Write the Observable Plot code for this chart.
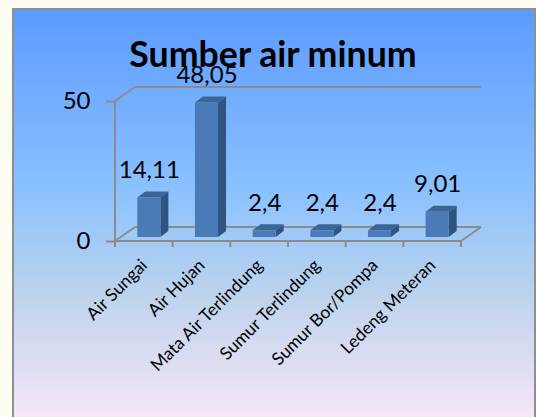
<!DOCTYPE html>
<html>
<head>
<meta charset="utf-8">
<script src="https://cdn.jsdelivr.net/npm/d3@7"></script>
<script src="https://cdn.jsdelivr.net/npm/@observablehq/plot@0.6"></script>
<style>
  html, body { margin: 0; padding: 0; background: #fdfdf1; width: 536px; height: 417px; overflow: hidden; }
  #panel { position: absolute; left: 12px; top: 8px; width: 520px; height: 409px; border: 2px solid #8f8f8f; border-bottom: none;
    background: linear-gradient(to bottom, #5b9bff 0%, #8cc2ff 45%, #bdd3ec 70%, #f8e6f8 100%); }
  #title { position: absolute; left: 0; width: 546px; top: 32px; text-align: center; font: 700 35.7px Lato, sans-serif; color: #000; z-index: 2; }
  #chart { position: absolute; left: 0; top: 0; z-index: 1; }
  svg { background: transparent !important; }
</style>
</head>
<body>
<div id="panel"></div>
<div id="title">Sumber air minum</div>
<div id="chart"></div>
<script>
const categories = ["Air Sungai", "Air Hujan", "Mata Air Terlindung", "Sumur Terlindung", "Sumur Bor/Pompa", "Ledeng Meteran"];
const values = [14.11, 48.05, 2.4, 2.4, 2.4, 9.01];
const yTicks = [0, 50];
const data = categories.map((c, i) => ({c, v: values[i]}));

const gray = "#8c8c8c";
const barOff = [5, -4], barDepth = [8, -6], wallDepth = [20, -14];

function polygon(svg, pts, fill) {
  const p = document.createElementNS("http://www.w3.org/2000/svg", "polygon");
  p.setAttribute("points", pts.map(q => q.join(",")).join(" "));
  p.setAttribute("fill", fill);
  svg.appendChild(p);
}

// back wall and floor outline, placed from the scales
function walls(index, {x, y}) {
  const g = document.createElementNS("http://www.w3.org/2000/svg", "g");
  const step = x.step();
  const left = x(categories[0]) - 0.3 * step;
  const right = x(categories[categories.length - 1]) + x.bandwidth() + 0.3 * step;
  const y0 = y(0), y1 = y(50);
  const [wx, wy] = wallDepth;
  const line = (a, b) => {
    const l = document.createElementNS("http://www.w3.org/2000/svg", "line");
    l.setAttribute("x1", a[0]); l.setAttribute("y1", a[1]);
    l.setAttribute("x2", b[0]); l.setAttribute("y2", b[1]);
    l.setAttribute("stroke", gray); l.setAttribute("stroke-width", 2);
    g.appendChild(l);
  };
  line([left, y0], [left, y1]);
  line([left, y1], [left + wx, y1 + wy]);
  line([left + wx, y1 + wy], [right + wx, y1 + wy]);
  line([left, y0], [left + wx, y0 + wy]);
  line([left + wx, y0 + wy], [right + wx, y0 + wy]);
  line([right, y0], [right + wx, y0 + wy]);
  line([left, y0], [right, y0]);
  for (let i = 0; i <= categories.length; i++) line([left + i * step, y0], [left + i * step, y0 + 6]);
  return g;
}

// side and top faces of each bar
function faces(index, {x, y}) {
  const g = document.createElementNS("http://www.w3.org/2000/svg", "g");
  const w = x.bandwidth(), [ox, oy] = barOff, [dx, dy] = barDepth;
  for (const d of data) {
    const l = x(d.c) + ox, r = l + w, t = y(d.v) + oy, b = y(0) + oy;
    polygon(g, [[r, t], [r + dx, t + dy], [r + dx, b + dy], [r, b]], "#2f5480");
    polygon(g, [[l, t], [l + dx, t + dy], [r + dx, t + dy], [r, t]], "#3a6594");
  }
  return g;
}

const plot = Plot.plot({
  width: 536,
  height: 417,
  marginLeft: 115,
  marginRight: 75,
  marginTop: 101,
  marginBottom: 176,
  style: {background: "transparent", fontFamily: "Lato, sans-serif", overflow: "visible"},
  x: {domain: categories, paddingInner: 0.6, paddingOuter: 0.3, round: false, label: null},
  y: {domain: [0, 50], label: null},
  marks: [
    walls,
    faces,
    Plot.barY(data, {x: "c", y: "v", fill: "#4a7bb6", dx: barOff[0], dy: barOff[1]}),
    Plot.text(data, {x: "c", y: "v", text: d => String(d.v).replace(".", ","), lineAnchor: "bottom",
      dx: 5, dy: -24, fontSize: 24, fill: "#000"}),
    Plot.axisY({ticks: yTicks, tickSize: 9, tickPadding: 16, fontSize: 24, stroke: gray, strokeWidth: 2,
      fill: "#000", strokeOpacity: 1, label: null, tickFormat: d => d}),
    Plot.axisX({tickSize: 0, tickRotate: -45, tickPadding: 21, fontSize: 17.5, fill: "#000", label: null})
  ]
});
document.getElementById("chart").appendChild(plot);
</script>
</body>
</html>
